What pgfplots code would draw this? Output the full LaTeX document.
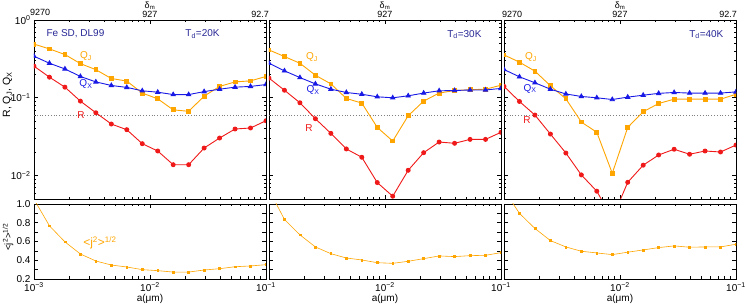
\documentclass[border=0pt]{standalone}
\usepackage{fontspec}
\setmainfont{Liberation Sans}
\usepackage{pgfplots}
\usepackage{pgfplotstable}
\pgfplotsset{compat=1.18}
\definecolor{orangeC}{RGB}{255,165,0}
\definecolor{blueC}{RGB}{25,25,230}
\definecolor{redC}{RGB}{240,25,25}
\definecolor{navyC}{RGB}{40,40,150}

\pgfplotstableread{
a QJ QX R J
0.001 0.49 0.342 0.255 1.05
0.0013594 0.425 0.278 0.184 0.767
0.0018478 0.36 0.235 0.137 0.596
0.0025119 0.275 0.188 0.0906 0.467
0.0034145 0.23 0.160 0.0642 0.392
0.0046416 0.177 0.144 0.046 0.349
0.0063096 0.164 0.136 0.0389 0.328
0.008577 0.115 0.123 0.0257 0.30
0.011659 0.097 0.118 0.0207 0.289
0.015849 0.070 0.110 0.0138 0.274
0.021544 0.067 0.110 0.0138 0.274
0.029286 0.105 0.120 0.0226 0.296
0.039811 0.14 0.129 0.0304 0.31
0.054117 0.16 0.137 0.0397 0.331
0.073564 0.165 0.140 0.0409 0.339
0.1 0.188 0.148 0.0507 0.353
}\tabA

\pgfplotstableread{
a QJ QX R J
0.001 0.412 0.278 0.179 1.15
0.0013594 0.339 0.222 0.125 0.835
0.0018478 0.278 0.182 0.0863 0.671
0.0025119 0.195 0.151 0.0538 0.542
0.0034145 0.151 0.129 0.0349 0.47
0.0046416 0.098 0.117 0.022 0.424
0.0063096 0.0855 0.111 0.0172 0.403
0.008577 0.0416 0.103 0.00813 0.374
0.011659 0.0278 0.100 0.00543 0.367
0.015849 0.0588 0.106 0.0117 0.389
0.021544 0.0906 0.115 0.0197 0.417
0.029286 0.115 0.123 0.027 0.446
0.039811 0.124 0.124 0.026 0.439
0.054117 0.127 0.126 0.0292 0.449
0.073564 0.129 0.126 0.0292 0.453
0.1 0.145 0.132 0.036 0.481
}\tabB

\pgfplotstableread{
a QJ QX R J
0.001 0.356 0.231 0.14 1.15
0.0013594 0.287 0.186 0.0897 0.90
0.0018478 0.22 0.156 0.06 0.739
0.0025119 0.143 0.129 0.0342 0.61
0.0034145 0.097 0.112 0.0195 0.542
0.0046416 0.0488 0.104 0.0102 0.496
0.0063096 0.036 0.100 0.0063 0.478
0.008577 0.0107 0.095 0.0028 0.46
0.011659 0.0416 0.102 0.0082 0.486
0.015849 0.0662 0.108 0.0136 0.51
0.021544 0.0845 0.114 0.0184 0.535
0.029286 0.096 0.117 0.0218 0.553
0.039811 0.096 0.115 0.0188 0.539
0.054117 0.096 0.115 0.0207 0.542
0.073564 0.096 0.115 0.0201 0.542
0.1 0.111 0.119 0.0247 0.571
}\tabC

\pgfplotsset{
  every axis/.append style={
    scale only axis, width=232pt,
    tick align=inside,
    axis line style={line width=0.8pt},
    tick style={black, line width=0.6pt},
    major tick length=4pt, minor tick length=2.5pt,
    clip marker paths=true,
    tick label style={font=\fontsize{10}{11}\selectfont},
  },
  myqj/.style={orangeC, line width=0.9pt, mark=square*, mark size=1.9pt},
  myqx/.style={blueC, line width=0.9pt, mark=triangle*, mark size=2.4pt},
  myrr/.style={redC, line width=0.9pt, mark=*, mark size=2pt},
  myjj/.style={orangeC, line width=0.6pt, mark=square*, mark size=0.9pt},
  mydl/.style={gray, dash pattern=on 0.8pt off 2pt, line width=0.6pt},
}

\begin{document}
\begin{tikzpicture}
\useasboundingbox (-34pt,-26pt) rectangle (713pt,279pt);

% ---------- Top left ----------
\begin{axis}[name=tl, anchor=south west, at={(0pt,80pt)},
  height=179pt, xmode=log, ymode=log, xmin=1e-3, xmax=1e-1, ymin=0.005, ymax=1,
  xtick={1e-3,1e-2,1e-1},
  minor xtick={0.002,0.003,0.004,0.005,0.006,0.007,0.008,0.009,0.02,0.03,0.04,0.05,0.06,0.07,0.08,0.09},
  ytick={0.01,0.1,1},
  minor ytick={0.006,0.007,0.008,0.009,0.02,0.03,0.04,0.05,0.06,0.07,0.08,0.09,0.2,0.3,0.4,0.5,0.6,0.7,0.8,0.9},
  xticklabel pos=right,
  xticklabel style={font=\fontsize{9}{10}\selectfont, yshift=-1.5pt},
  xticklabels={,927,\makebox[0pt][r]{92.7\hspace*{-3pt}}},
  yticklabels={10\textsuperscript{−2},10\textsuperscript{−1},10\textsuperscript{0}}]
\addplot[mydl] coordinates {(0.001,0.06) (0.1,0.06)};
\addplot[myqj] table[x=a,y=QJ]{\tabA};
\addplot[myqx] table[x=a,y=QX]{\tabA};
\addplot[myrr] table[x=a,y=R]{\tabA};
\node[anchor=base west, text=navyC, font=\fontsize{10}{11}\selectfont] at (rel axis cs:0.039,0.908) {Fe SD, DL99};
\node[anchor=base east, text=navyC, font=\fontsize{10}{11}\selectfont] at (rel axis cs:0.815,0.908) {T\textsubscript{d}=20K};
\node[text=orangeC, font=\fontsize{10}{11}\selectfont] at (rel axis cs:0.224,0.799) {Q\textsubscript{J}};
\node[text=blueC, font=\fontsize{10}{11}\selectfont] at (rel axis cs:0.224,0.642) {Q\textsubscript{X}};
\node[text=redC, font=\fontsize{10}{11}\selectfont] at (rel axis cs:0.203,0.469) {R};
\end{axis}

% ---------- Top middle ----------
\begin{axis}[name=tm, anchor=south west, at={(235pt,80pt)},
  height=179pt, xmode=log, ymode=log, xmin=1e-3, xmax=1e-1, ymin=0.005, ymax=1,
  xtick={1e-3,1e-2,1e-1},
  minor xtick={0.002,0.003,0.004,0.005,0.006,0.007,0.008,0.009,0.02,0.03,0.04,0.05,0.06,0.07,0.08,0.09},
  ytick={0.01,0.1,1},
  minor ytick={0.006,0.007,0.008,0.009,0.02,0.03,0.04,0.05,0.06,0.07,0.08,0.09,0.2,0.3,0.4,0.5,0.6,0.7,0.8,0.9},
  xticklabel pos=right,
  xticklabel style={font=\fontsize{9}{10}\selectfont, yshift=-1.5pt},
  xticklabels={,927,},
  yticklabels={}]
\addplot[mydl] coordinates {(0.001,0.06) (0.1,0.06)};
\addplot[myqj] table[x=a,y=QJ]{\tabB};
\addplot[myqx] table[x=a,y=QX]{\tabB};
\addplot[myrr] table[x=a,y=R]{\tabB};
\node[anchor=base east, text=navyC, font=\fontsize{10}{11}\selectfont] at (rel axis cs:0.931,0.905) {T\textsubscript{d}=30K};
\node[text=orangeC, font=\fontsize{10}{11}\selectfont] at (rel axis cs:0.185,0.793) {Q\textsubscript{J}};
\node[text=blueC, font=\fontsize{10}{11}\selectfont] at (rel axis cs:0.19,0.609) {Q\textsubscript{X}};
\node[text=redC, font=\fontsize{10}{11}\selectfont] at (rel axis cs:0.172,0.397) {R};
\end{axis}

% ---------- Top right ----------
\begin{axis}[name=tr, anchor=south west, at={(470pt,80pt)},
  height=179pt, xmode=log, ymode=log, xmin=1e-3, xmax=1e-1, ymin=0.005, ymax=1,
  xtick={1e-3,1e-2,1e-1},
  minor xtick={0.002,0.003,0.004,0.005,0.006,0.007,0.008,0.009,0.02,0.03,0.04,0.05,0.06,0.07,0.08,0.09},
  ytick={0.01,0.1,1},
  minor ytick={0.006,0.007,0.008,0.009,0.02,0.03,0.04,0.05,0.06,0.07,0.08,0.09,0.2,0.3,0.4,0.5,0.6,0.7,0.8,0.9},
  xticklabel pos=right,
  xticklabel style={font=\fontsize{9}{10}\selectfont, yshift=-1.5pt},
  xticklabels={\makebox[0pt][l]{\hspace*{-2pt}9270},927,\makebox[0pt][r]{92.7\hspace*{-1pt}}},
  yticklabels={}]
\addplot[mydl] coordinates {(0.001,0.06) (0.1,0.06)};
\addplot[myqj] table[x=a,y=QJ]{\tabC};
\addplot[myqx] table[x=a,y=QX]{\tabC};
\addplot[myrr] table[x=a,y=R]{\tabC};
\node[anchor=base east, text=navyC, font=\fontsize{10}{11}\selectfont] at (rel axis cs:0.961,0.905) {T\textsubscript{d}=40K};
\node[text=orangeC, font=\fontsize{10}{11}\selectfont] at (rel axis cs:0.116,0.793) {Q\textsubscript{J}};
\node[text=blueC, font=\fontsize{10}{11}\selectfont] at (rel axis cs:0.112,0.615) {Q\textsubscript{X}};
\node[text=redC, font=\fontsize{10}{11}\selectfont] at (rel axis cs:0.099,0.441) {R};
\end{axis}

% ---------- Bottom left ----------
\begin{axis}[name=bl, anchor=south west, at={(0pt,0pt)},
  height=75pt, xmode=log, xmin=1e-3, xmax=1e-1, ymin=0.2, ymax=1.0,
  xtick={1e-3,1e-2,1e-1},
  minor xtick={0.002,0.003,0.004,0.005,0.006,0.007,0.008,0.009,0.02,0.03,0.04,0.05,0.06,0.07,0.08,0.09},
  ytick={0.2,0.3,0.4,0.5,0.6,0.7,0.8,0.9,1.0},
  xlabel={a(μm)},
  xlabel style={font=\fontsize{10}{11}\selectfont, yshift=4pt},
  xticklabel style={yshift=-0.5pt},
  xticklabels={10\textsuperscript{−3},10\textsuperscript{−2},10\textsuperscript{−1}},
  yticklabels={0.2,,0.4,,0.6,,0.8,,1.0}]
\addplot[myjj] table[x=a,y=J]{\tabA};
\node[text=orangeC, font=\fontsize{12}{13}\selectfont] at (rel axis cs:0.284,0.48) {<j\textsuperscript{2}>\textsuperscript{1/2}};
\end{axis}

% ---------- Bottom middle ----------
\begin{axis}[name=bm, anchor=south west, at={(235pt,0pt)},
  height=75pt, xmode=log, xmin=1e-3, xmax=1e-1, ymin=0.2, ymax=1.0,
  xtick={1e-3,1e-2,1e-1},
  minor xtick={0.002,0.003,0.004,0.005,0.006,0.007,0.008,0.009,0.02,0.03,0.04,0.05,0.06,0.07,0.08,0.09},
  ytick={0.2,0.3,0.4,0.5,0.6,0.7,0.8,0.9,1.0},
  xlabel={a(μm)},
  xlabel style={font=\fontsize{10}{11}\selectfont, yshift=4pt},
  xticklabel style={yshift=-0.5pt},
  xticklabels={,10\textsuperscript{−2},10\textsuperscript{−1}},
  yticklabels={}]
\addplot[myjj] table[x=a,y=J]{\tabB};
\end{axis}

% ---------- Bottom right ----------
\begin{axis}[name=br, anchor=south west, at={(470pt,0pt)},
  height=75pt, xmode=log, xmin=1e-3, xmax=1e-1, ymin=0.2, ymax=1.0,
  xtick={1e-3,1e-2,1e-1},
  minor xtick={0.002,0.003,0.004,0.005,0.006,0.007,0.008,0.009,0.02,0.03,0.04,0.05,0.06,0.07,0.08,0.09},
  ytick={0.2,0.3,0.4,0.5,0.6,0.7,0.8,0.9,1.0},
  xlabel={a(μm)},
  xlabel style={font=\fontsize{10}{11}\selectfont, yshift=4pt},
  xticklabel style={yshift=-0.5pt},
  xticklabels={,10\textsuperscript{−2},10\textsuperscript{−1}},
  yticklabels={}]
\addplot[myjj] table[x=a,y=J]{\tabC};
\end{axis}

% ---------- outside texts ----------
\node[anchor=base west, font=\fontsize{9}{10}\selectfont, inner sep=0pt] at ([xshift=-4pt,yshift=4pt]tl.north west) {9270};
\node[anchor=base, font=\fontsize{9}{10}\selectfont] at ([yshift=11pt]tl.north) {δ\textsubscript{m}};
\node[anchor=base, font=\fontsize{9}{10}\selectfont] at ([yshift=11pt]tm.north) {δ\textsubscript{m}};
\node[anchor=base, font=\fontsize{9}{10}\selectfont] at ([yshift=11pt]tr.north) {δ\textsubscript{m}};
\node[rotate=90, font=\fontsize{10.5}{11}\selectfont] at (-26.5pt,184pt) {R, Q\textsubscript{J}, Q\textsubscript{X}};
\node[rotate=90, font=\fontsize{9.5}{10}\selectfont] at (-26pt,42pt) {<j\textsuperscript{2}>\textsuperscript{1/2}};
\end{tikzpicture}
\end{document}
